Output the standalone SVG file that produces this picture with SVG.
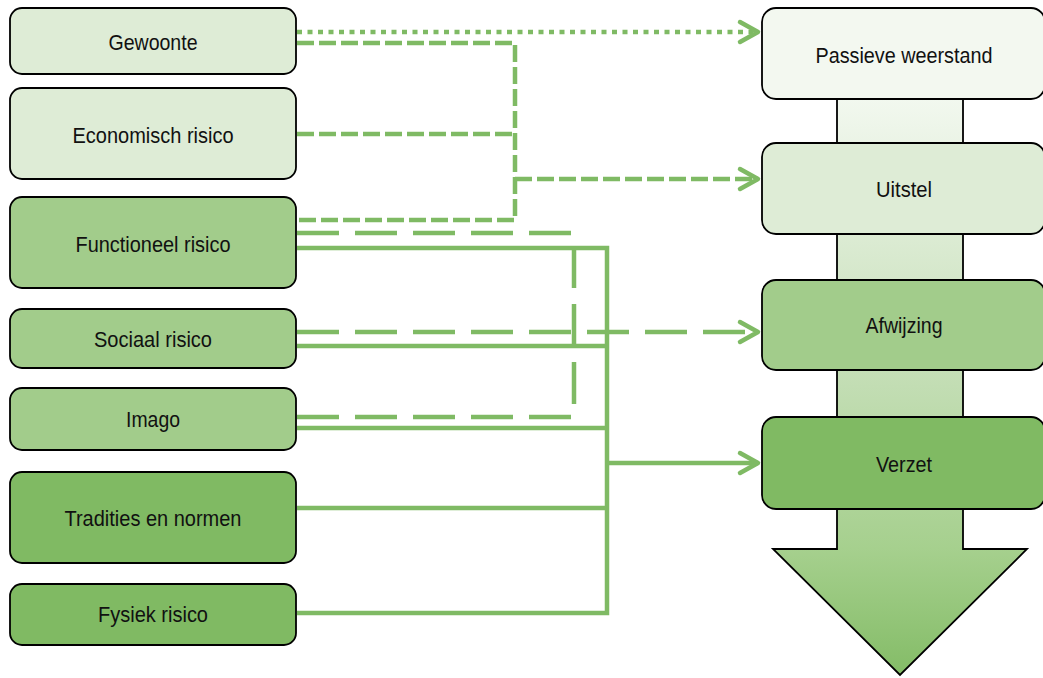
<svg xmlns="http://www.w3.org/2000/svg" width="1043" height="678" viewBox="0 0 1043 678">
<style>
.box{stroke:#000;stroke-width:1.8}
.c1{fill:#f3f8f0}
.c2{fill:#deecd6}
.c3{fill:#a2cc8b}
.c4{fill:#80ba63}
text{font-family:"Liberation Sans",Arial,sans-serif;font-size:22px;fill:#111;text-anchor:middle}
.ln{fill:none;stroke:#7fba64;stroke-width:4.5}
.dot{stroke-dasharray:5 5.5}
.dash{stroke-dasharray:17 5}
.long{stroke-dasharray:42 16}
</style>
<defs>
<linearGradient id="g" x1="0" y1="99" x2="0" y2="675" gradientUnits="userSpaceOnUse">
<stop offset="0" stop-color="#f2f8ef"/>
<stop offset="0.3" stop-color="#d6e8cc"/>
<stop offset="0.5" stop-color="#c2ddb3"/>
<stop offset="0.78" stop-color="#a6d08e"/>
<stop offset="1" stop-color="#84bc67"/>
</linearGradient>
<marker id="arr" markerUnits="userSpaceOnUse" markerWidth="26" markerHeight="28" refX="20" refY="12" orient="auto" overflow="visible">
<path d="M2,2 L20,12 L2,22" fill="none" stroke="#7fba64" stroke-width="4.5" stroke-linecap="round" stroke-linejoin="round"/>
</marker>
</defs>

<g id="flow-arrow">
<polygon points="837,99 963,99 963,549 1027,549 900,675 773,549 837,549" fill="url(#g)" stroke="#000" stroke-width="1.8"/>
</g>

<g id="connectors">
<path class="ln dot" d="M297,32 H758" marker-end="url(#arr)"/>
<path class="ln dash" d="M297,43 H515 V220 H297"/>
<path class="ln dash" d="M297,134 H515"/>
<path class="ln dash" d="M515,179 H758" marker-end="url(#arr)"/>
<path class="ln long" d="M297,233 H574 V417 H297"/>
<path class="ln long" d="M297,332 H758" marker-end="url(#arr)"/>
<path class="ln" d="M297,248 H607 V613 H297"/>
<path class="ln" d="M297,346 H607"/>
<path class="ln" d="M297,428 H607"/>
<path class="ln" d="M297,508 H607"/>
<path class="ln" d="M607,463 H758" marker-end="url(#arr)"/>
</g>

<g id="gewoonte"><rect class="box c2" x="10" y="8" width="286" height="66" rx="12"/><text x="153" y="50" textLength="89" lengthAdjust="spacingAndGlyphs">Gewoonte</text></g>
<g id="economisch-risico"><rect class="box c2" x="10" y="88" width="286" height="91" rx="12"/><text x="153" y="143" textLength="161" lengthAdjust="spacingAndGlyphs">Economisch risico</text></g>
<g id="functioneel-risico"><rect class="box c3" x="10" y="197" width="286" height="91" rx="12"/><text x="153" y="252" textLength="155" lengthAdjust="spacingAndGlyphs">Functioneel risico</text></g>
<g id="sociaal-risico"><rect class="box c3" x="10" y="309" width="286" height="59" rx="12"/><text x="153" y="347" textLength="118" lengthAdjust="spacingAndGlyphs">Sociaal risico</text></g>
<g id="imago"><rect class="box c3" x="10" y="388" width="286" height="62" rx="12"/><text x="153" y="427" textLength="54" lengthAdjust="spacingAndGlyphs">Imago</text></g>
<g id="tradities-en-normen"><rect class="box c4" x="10" y="472" width="286" height="91" rx="12"/><text x="153" y="526" textLength="177" lengthAdjust="spacingAndGlyphs">Tradities en normen</text></g>
<g id="fysiek-risico"><rect class="box c4" x="10" y="584" width="286" height="61" rx="12"/><text x="153" y="622" textLength="110" lengthAdjust="spacingAndGlyphs">Fysiek risico</text></g>

<g id="passieve-weerstand"><rect class="box c1" x="762" y="8" width="283" height="91" rx="14"/><text x="904" y="63" textLength="177" lengthAdjust="spacingAndGlyphs">Passieve weerstand</text></g>
<g id="uitstel"><rect class="box c2" x="762" y="143" width="283" height="91" rx="14"/><text x="904" y="197" textLength="56" lengthAdjust="spacingAndGlyphs">Uitstel</text></g>
<g id="afwijzing"><rect class="box c3" x="762" y="280" width="283" height="90" rx="14"/><text x="904" y="333" textLength="77" lengthAdjust="spacingAndGlyphs">Afwijzing</text></g>
<g id="verzet"><rect class="box c4" x="762" y="417" width="283" height="92" rx="14"/><text x="904" y="472" textLength="56" lengthAdjust="spacingAndGlyphs">Verzet</text></g>
</svg>
